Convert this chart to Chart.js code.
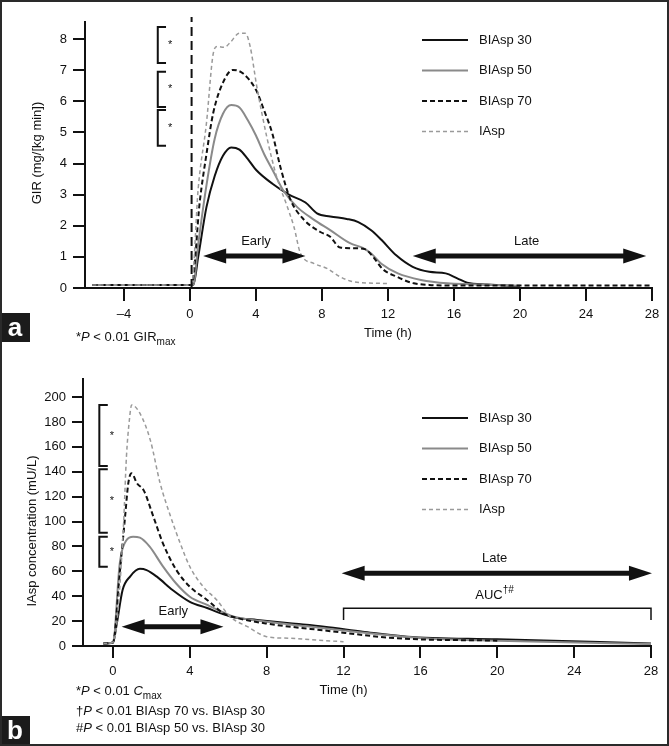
<html>
<head>
<meta charset="utf-8">
<title>GIR and IAsp concentration profiles</title>
<script src="https://cdn.jsdelivr.net/npm/chart.js"></script>
<style>
    body { margin: 0; background: #fff; }
    #wrap { position: relative; width: 669px; height: 746px; }
    #frame { position: absolute; left: 0; top: 0; width: 669px; height: 746px; box-sizing: border-box; border: 2px solid #2a2a2a; pointer-events: none; }
    canvas { position: absolute; left: 0; }
</style>
</head>
<body>
<div id="wrap">
    <canvas id="girChart" width="669" height="345" style="top:0px"></canvas>
    <canvas id="iaspChart" width="669" height="401" style="top:345px"></canvas>
    <div id="frame"></div>
</div>
<script>
// ---- data ----
var seriesNames = ["BIAsp 30", "BIAsp 50", "BIAsp 70", "IAsp"]

// panel a: GIR (mg/[kg min]) vs time (h)
var girTime30 = [-5.9, 0.2, 0.5, 1.0, 1.5, 2.0, 2.5, 3.0, 3.5, 4.0, 5.0, 6.0, 7.0, 7.7, 8.5, 9.5, 10.2, 11.0, 11.6, 12.5, 13.5, 14.5, 15.5, 16.2, 16.8, 18, 20]
var gir30      = [0.1, 0.1, 1.0, 2.6, 3.6, 4.25, 4.52, 4.45, 4.15, 3.8, 3.35, 3.0, 2.75, 2.4, 2.3, 2.22, 2.12, 1.85, 1.55, 1.05, 0.68, 0.52, 0.47, 0.31, 0.17, 0.11, 0.06]
var girTime50 = [-5.9, 0.2, 0.5, 1.0, 1.5, 2.0, 2.5, 3.0, 3.5, 4.0, 4.5, 5.0, 5.7, 6.5, 7.5, 8.5, 9.7, 10.5, 11.0, 11.6, 12.6, 14.0, 15.6, 17, 20]
var gir50      = [0.1, 0.1, 1.4, 3.3, 4.8, 5.6, 5.88, 5.8, 5.4, 4.9, 4.3, 3.8, 3.1, 2.6, 2.2, 1.86, 1.44, 1.28, 1.1, 0.78, 0.47, 0.26, 0.15, 0.12, 0.07]
var girTime70 = [-5.9, 0.1, 0.6, 1.0, 1.4, 2.0, 2.6, 3.2, 4.0, 4.5, 5.0, 5.5, 6.1, 6.9, 7.9, 8.5, 9.1, 9.9, 10.6, 11.1, 11.7, 12.5, 13.5, 14.5, 16, 28]
var gir70      = [0.1, 0.1, 2.8, 4.3, 5.6, 6.6, 7.01, 6.9, 6.37, 5.7, 4.95, 3.85, 2.83, 2.2, 1.8, 1.65, 1.3, 1.28, 1.25, 1.0, 0.6, 0.37, 0.16, 0.1, 0.08, 0.08]
var girTimeAsp = [-5.9, 0.1, 0.5, 1.0, 1.4, 1.65, 2.1, 2.45, 3.0, 3.35, 3.65, 4.05, 4.65, 5.25, 5.9, 6.3, 6.7, 7.5, 8.3, 9.1, 9.9, 11.5, 12]
var girAsp      = [0.1, 0.1, 3.2, 5.3, 7.5, 7.76, 7.74, 7.9, 8.19, 8.19, 7.76, 6.48, 4.87, 3.58, 2.61, 1.97, 1.11, 0.79, 0.63, 0.36, 0.2, 0.15, 0.14]

// panel b: IAsp concentration (mU/L) vs time (h)
var concTime30 = [-0.5, 0, 0.2, 0.5, 0.9, 1.4, 1.75, 2.3, 3.1, 4.0, 4.9, 5.75, 6.3, 7.5, 9.2, 11, 13, 15.3, 20, 28]
var conc30      = [2, 2.5, 18, 45, 56, 62, 61, 55.5, 45, 35.5, 30.5, 25.5, 23, 20.9, 18.2, 15.5, 11.5, 7.5, 5.4, 2.1]
var concTime50 = [-0.5, 0, 0.35, 0.7, 1.05, 1.4, 1.9, 2.6, 3.3, 4.0, 4.9, 5.75, 6.3, 8, 10, 12, 16, 20, 28]
var conc50      = [2, 2.5, 66, 85, 87.8, 87, 80, 64, 50, 39.6, 33, 27, 23.5, 19.5, 16, 12.5, 6.5, 4.2, 1.6]
var concTime70 = [-0.5, 0, 0.35, 0.63, 0.8, 0.97, 1.25, 1.6, 2.1, 2.6, 3.3, 4.0, 4.9, 5.75, 6.6, 8, 11, 14.8, 20]
var conc70      = [2, 3, 58, 104, 131, 138.7, 130.7, 125, 104, 82.5, 61, 47.6, 37, 26.3, 22, 18, 12.5, 6.2, 4.3]
var concTimeAsp = [-0.5, 0, 0.2, 0.55, 0.7, 0.85, 0.97, 1.4, 1.95, 2.45, 3.0, 3.5, 4.0, 4.7, 5.4, 6.1, 7.0, 8.0, 9.2, 11, 12]
var concAsp      = [2, 3, 18, 98, 152, 181, 193.6, 187, 165, 131, 104, 82.5, 63.7, 47.6, 37, 23.5, 15.5, 7.5, 6.2, 4.3, 3.5]

var timeTicks = [-4, 0, 4, 8, 12, 16, 20, 24, 28]
var timeTicksB = [0, 4, 8, 12, 16, 20, 24, 28]
var girTicks = [0, 1, 2, 3, 4, 5, 6, 7, 8]
var concTicks = [0, 20, 40, 60, 80, 100, 120, 140, 160, 180, 200]

// significance brackets (value ranges) and phase arrows (time ranges)
var girBrackets = [[8.39, 7.23], [6.95, 5.82], [5.72, 4.57]]
var concBrackets = [[193.6, 144.6], [141.9, 91], [87.8, 63.7]]
var girEarly = [0.8, 7.0], girLate = [13.5, 27.65]
var concEarly = [0.45, 5.75], concLate = [11.9, 28.05], concAuc = [12, 28]

// ---- styling ----
var FONT = "'Liberation Sans', Arial, sans-serif"
var lineStyles = [
    { color: "#111", dash: [], width: 2 },
    { color: "#8a8a8a", dash: [], width: 2 },
    { color: "#111", dash: [5, 3], width: 2 },
    { color: "#9a9a9a", dash: [4, 3], width: 1.5 }
]

function pts(t, v) {
    return t.map((x, i) => ({ x: x, y: v[i] }))
}

function makeDatasets(lists) {
    return lists.map((l, i) => ({
        label: seriesNames[i],
        data: pts(l[0], l[1]),
        borderColor: lineStyles[i].color,
        borderDash: lineStyles[i].dash,
        borderWidth: lineStyles[i].width,
        pointRadius: 0,
        fill: false,
        cubicInterpolationMode: "monotone"
    })).reverse()
}

function fmtTick(v) {
    return v < 0 ? "\u2013" + Math.abs(v) : String(v)
}

function arrow(ctx, x1, x2, y) {
    var head = 23, half = 7.5, shaft = 2.5
    ctx.beginPath()
    ctx.moveTo(x1, y)
    ctx.lineTo(x1 + head, y - half)
    ctx.lineTo(x1 + head, y - shaft)
    ctx.lineTo(x2 - head, y - shaft)
    ctx.lineTo(x2 - head, y - half)
    ctx.lineTo(x2, y)
    ctx.lineTo(x2 - head, y + half)
    ctx.lineTo(x2 - head, y + shaft)
    ctx.lineTo(x1 + head, y + shaft)
    ctx.lineTo(x1 + head, y + half)
    ctx.closePath()
    ctx.fill()
}

// draws a run of text pieces: {t, it (italic), sub, sup}
function rich(ctx, parts, x, y) {
    ctx.textAlign = "left"
    ctx.textBaseline = "middle"
    parts.forEach(p => {
        var size = (p.sub || p.sup) ? 10 : 13
        ctx.font = (p.it ? "italic " : "") + size + "px " + FONT
        var dy = p.sub ? 5 : (p.sup ? -5 : 0)
        ctx.fillText(p.t, x, y + dy)
        x += ctx.measureText(p.t).width
    })
    return x
}

function richCentered(ctx, parts, cx, y) {
    var w = 0
    parts.forEach(p => {
        ctx.font = (p.it ? "italic " : "") + ((p.sub || p.sup) ? 10 : 13) + "px " + FONT
        w += ctx.measureText(p.t).width
    })
    rich(ctx, parts, cx - w / 2, y)
}

function brackets(ctx, xs, ys, list, x0, x1) {
    ctx.lineWidth = 2
    ctx.strokeStyle = "#111"
    ctx.fillStyle = "#111"
    list.forEach(b => {
        var a = ys.getPixelForValue(b[0]), c = ys.getPixelForValue(b[1])
        var l = xs.getPixelForValue(x0), r = xs.getPixelForValue(x1)
        ctx.beginPath()
        ctx.moveTo(r, a); ctx.lineTo(l, a); ctx.lineTo(l, c); ctx.lineTo(r, c)
        ctx.stroke()
        ctx.font = "11px " + FONT
        ctx.textAlign = "left"
        ctx.textBaseline = "middle"
        ctx.fillText("*", r + 2, (a + c) / 2)
    })
}

function legend(ctx, chart, top) {
    var ds = chart.data.datasets.slice().reverse()
    ds.forEach((d, i) => {
        var y = top + i * 30.5
        ctx.save()
        ctx.strokeStyle = d.borderColor
        ctx.lineWidth = d.borderWidth
        ctx.setLineDash(d.borderDash)
        ctx.beginPath()
        ctx.moveTo(422, y); ctx.lineTo(468, y)
        ctx.stroke()
        ctx.restore()
        ctx.fillStyle = "#111"
        ctx.font = "13px " + FONT
        ctx.textAlign = "left"
        ctx.textBaseline = "middle"
        ctx.fillText(d.label, 479, y)
    })
}

function panelLabel(ctx, letter, y, h) {
    ctx.fillStyle = "#1b1b1b"
    ctx.fillRect(0, y, 30, h)
    ctx.fillStyle = "#fff"
    ctx.font = "bold 26px " + FONT
    ctx.textAlign = "center"
    ctx.textBaseline = "middle"
    ctx.fillText(letter, 15, y + h / 2 + 1)
}

function yTitle(ctx, text, x, y) {
    ctx.save()
    ctx.translate(x, y)
    ctx.rotate(-Math.PI / 2)
    ctx.fillStyle = "#111"
    ctx.font = "13px " + FONT
    ctx.textAlign = "center"
    ctx.textBaseline = "middle"
    ctx.fillText(text, 0, 0)
    ctx.restore()
}

var girDecor = {
    id: "girDecor",
    afterDraw(chart) {
        var ctx = chart.ctx, xs = chart.scales.x, ys = chart.scales.y
        ctx.save()
        // dosing line
        ctx.strokeStyle = "#111"
        ctx.lineWidth = 2
        ctx.setLineDash([9, 5])
        ctx.beginPath()
        ctx.moveTo(xs.getPixelForValue(0.1), ys.getPixelForValue(0))
        ctx.lineTo(xs.getPixelForValue(0.1), chart.chartArea.top - 5)
        ctx.stroke()
        ctx.setLineDash([])
        brackets(ctx, xs, ys, girBrackets, -1.95, -1.45)
        ctx.fillStyle = "#111"
        arrow(ctx, xs.getPixelForValue(girEarly[0]), xs.getPixelForValue(girEarly[1]), ys.getPixelForValue(1.03))
        arrow(ctx, xs.getPixelForValue(girLate[0]), xs.getPixelForValue(girLate[1]), ys.getPixelForValue(1.03))
        ctx.font = "13px " + FONT
        ctx.textAlign = "center"
        ctx.textBaseline = "middle"
        ctx.fillText("Early", xs.getPixelForValue(4.0), ys.getPixelForValue(1.5))
        ctx.fillText("Late", xs.getPixelForValue(20.4), ys.getPixelForValue(1.5))
        ctx.fillText("Time (h)", xs.getPixelForValue(12), 333)
        yTitle(ctx, "GIR (mg/[kg min])", 37, 153)
        legend(ctx, chart, 40)
        ctx.fillStyle = "#111"
        rich(ctx, [{ t: "*" }, { t: "P", it: true }, { t: " < 0.01 GIR" }, { t: "max", sub: true }], 76, 337)
        panelLabel(ctx, "a", 313, 29)
        ctx.restore()
    }
}

var concDecor = {
    id: "concDecor",
    afterDraw(chart) {
        var ctx = chart.ctx, xs = chart.scales.x, ys = chart.scales.y
        ctx.save()
        brackets(ctx, xs, ys, concBrackets, -0.71, -0.27)
        ctx.fillStyle = "#111"
        arrow(ctx, xs.getPixelForValue(concEarly[0]), xs.getPixelForValue(concEarly[1]), ys.getPixelForValue(15.5))
        arrow(ctx, xs.getPixelForValue(concLate[0]), xs.getPixelForValue(concLate[1]), ys.getPixelForValue(58.4))
        ctx.font = "13px " + FONT
        ctx.textAlign = "center"
        ctx.textBaseline = "middle"
        ctx.fillText("Early", xs.getPixelForValue(3.14), ys.getPixelForValue(27.6))
        ctx.fillText("Late", xs.getPixelForValue(19.86), ys.getPixelForValue(70.5))
        // AUC bracket
        var l = xs.getPixelForValue(concAuc[0]), r = xs.getPixelForValue(concAuc[1])
        var top = ys.getPixelForValue(30.3), bot = ys.getPixelForValue(20.9)
        ctx.strokeStyle = "#111"
        ctx.lineWidth = 1.5
        ctx.beginPath()
        ctx.moveTo(l, bot); ctx.lineTo(l, top); ctx.lineTo(r, top); ctx.lineTo(r, bot)
        ctx.stroke()
        richCentered(ctx, [{ t: "AUC" }, { t: "\u2020#", sup: true }], xs.getPixelForValue(19.86), ys.getPixelForValue(40.5))
        ctx.textAlign = "center"
        ctx.font = "13px " + FONT
        ctx.fillText("Time (h)", xs.getPixelForValue(12), 345)
        yTitle(ctx, "IAsp concentration (mU/L)", 32, 186)
        legend(ctx, chart, 73)
        ctx.fillStyle = "#111"
        rich(ctx, [{ t: "*" }, { t: "P", it: true }, { t: " < 0.01 " }, { t: "C", it: true }, { t: "max", sub: true }], 76, 346)
        rich(ctx, [{ t: "\u2020" }, { t: "P", it: true }, { t: " < 0.01 BIAsp 70 vs. BIAsp 30" }], 76, 366)
        rich(ctx, [{ t: "#" }, { t: "P", it: true }, { t: " < 0.01 BIAsp 50 vs. BIAsp 30" }], 76, 383)
        panelLabel(ctx, "b", 371, 30)
        ctx.restore()
    }
}

function axisOpts(min, max, ticks, fitSize, isX, tickLen) {
    return {
        type: "linear",
        min: min,
        max: max,
        afterBuildTicks: s => { s.ticks = ticks.map(v => ({ value: v })) },
        afterFit: s => { if (isX) s.height = fitSize; else s.width = fitSize },
        ticks: {
            autoSkip: false,
            maxRotation: 0,
            padding: 6,
            color: "#111",
            font: { family: FONT, size: 13 },
            callback: fmtTick
        },
        grid: { drawOnChartArea: false, drawTicks: true, tickLength: tickLen, color: "#111", lineWidth: 2 },
        border: { display: true, color: "#111", width: 2 }
    }
}

function baseOptions(xAxis, yAxis, padTop, padRight) {
    return {
        responsive: false,
        animation: false,
        devicePixelRatio: 1,
        layout: { padding: { left: 0, top: padTop, right: padRight, bottom: 0 } },
        plugins: { legend: { display: false }, tooltip: { enabled: false } },
        scales: { x: xAxis, y: yAxis }
    }
}

new Chart(document.getElementById("girChart"), {
    type: "line",
    data: { datasets: makeDatasets([[girTime30, gir30], [girTime50, gir50], [girTime70, gir70], [girTimeAsp, girAsp]]) },
    options: baseOptions(axisOpts(-6.36, 28, timeTicks, 57, true, 13), axisOpts(0, 8.55, girTicks, 85, false, 12), 22, 17),
    plugins: [girDecor]
})

new Chart(document.getElementById("iaspChart"), {
    type: "line",
    data: { datasets: makeDatasets([[concTime30, conc30], [concTime50, conc50], [concTime70, conc70], [concTimeAsp, concAsp]]) },
    options: baseOptions(axisOpts(-1.56, 28, timeTicksB, 100, true, 12), axisOpts(0, 214.5, concTicks, 83, false, 11), 34, 18),
    plugins: [concDecor]
})
</script>
</body>
</html>
